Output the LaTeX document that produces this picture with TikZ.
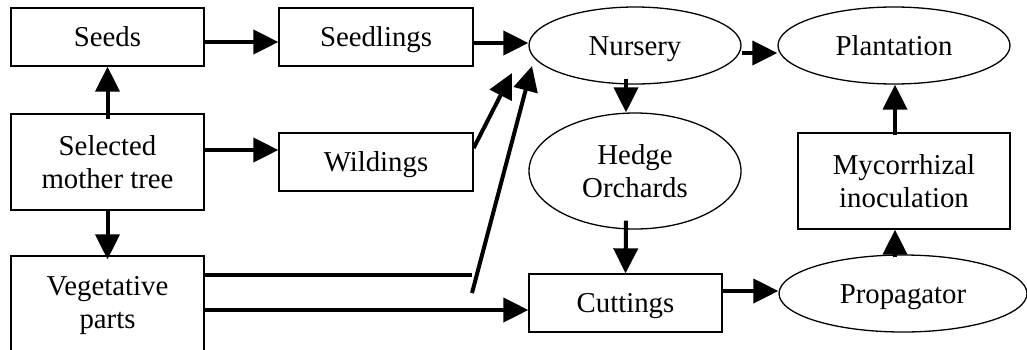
\documentclass[tikz,border=0pt]{standalone}
\usepackage{fontspec}
\setmainfont{Liberation Serif}
\usetikzlibrary{shapes.geometric,arrows.meta,calc}
\tikzset{
  box/.style={draw, line width=1.3pt, rectangle, inner sep=0pt, align=center,
    font=\fontsize{28.8}{33}\selectfont},
  oval/.style={draw, line width=1.3pt, ellipse, inner sep=0pt, align=center,
    font=\fontsize{28.8}{33}\selectfont},
  oneline/.style={text height=19pt, text depth=0pt},
  flow/.style={line width=4pt, -{Triangle[length=25pt,width=24pt]}},
  bare/.style={line width=4pt}
}
\begin{document}
\begin{tikzpicture}[x=1pt,y=-1pt]
\clip (0,0) rectangle (1027,349);
\fill[white] (0,0) rectangle (1027,349);
% nodes
\node[box, oneline, minimum width=193pt, minimum height=58pt] (seeds) at (107.5,37) {Seeds};
\node[box, oneline, minimum width=194pt, minimum height=58pt] (seedl) at (376,37) {Seedlings};
\node[box, minimum width=193pt, minimum height=96pt] (mother) at (107.5,162) {Selected\\mother tree};
\node[box, oneline, minimum width=194pt, minimum height=58pt] (wild) at (376,162) {Wildings};
\node[box, minimum width=193pt, minimum height=100pt] (veg) at (107.5,306) {Vegetative\\parts};
\node[oval, oneline, minimum width=212pt, minimum height=77pt] (nurs) at (635,45.5) {Nursery};
\node[oval, oneline, minimum width=232pt, minimum height=77pt] (plant) at (894,45.5) {Plantation};
\node[oval, minimum width=212pt, minimum height=116pt] (hedge) at (635,171) {Hedge\\Orchards};
\node[box, oneline, minimum width=193pt, minimum height=58pt] (cut) at (625.5,303) {Cuttings};
\node[oval, oneline, minimum width=248pt, minimum height=77pt] (prop) at (903,293.5) {Propagator};
\node[box, minimum width=212pt, minimum height=96pt] (myco) at (904,181) {Mycorrhizal\\inoculation};
% free ends
\coordinate (nt1) at (512,73);
\coordinate (nt2) at (532,66);
\coordinate (vj) at (472,275);
\coordinate (vs) at (472,293);
% connectors
\draw[flow] ($(seeds.east)+(0,5)$) -- ($(seedl.west)+(0,5)$);
\draw[flow] ($(seedl.east)+(0,6)$) -- ($(nurs.west |- seedl.east)+(0,6)$);
\draw[flow] ($(mother.north)+(0,6)$) -- (seeds.south);
\draw[flow] ($(mother.east)+(0,-12)$) -- ($(wild.west |- mother.east)+(0,-12)$);
\draw[flow] (mother.south) -- ($(veg.north)+(0,4)$);
\draw[flow] ($(wild.east)+(0,-14)$) -- (nt1);
\draw[bare] ($(veg.east)+(0,-31)$) -- (vj);
\draw[flow] (vs) -- (nt2);
\draw[flow] ($(veg.east)+(0,4)$) -- ($(cut.west |- veg.east)+(0,4)$);
\draw[flow] ($(nurs.south)+(-9,-6)$) -- ($(hedge.north)+(-9,0)$);
\draw[flow] ($(nurs.east)+(0,7.5)$) -- ($(plant.west |- nurs.east)+(0,7.5)$);
\draw[flow] ($(hedge.south)+(-9,-9)$) -- (cut.north);
\draw[flow] ($(cut.east)+(0,-12)$) -- ($(prop.west |- cut.east)+(0,-12)$);
\draw[flow] ($(prop.north)+(-8,3)$) -- ($(myco.south -| prop.north)+(-8,0)$);
\draw[flow] ($(myco.north)+(-9,3)$) -- ($(plant.south -| myco.north)+(-9,0)$);
\end{tikzpicture}
\end{document}
